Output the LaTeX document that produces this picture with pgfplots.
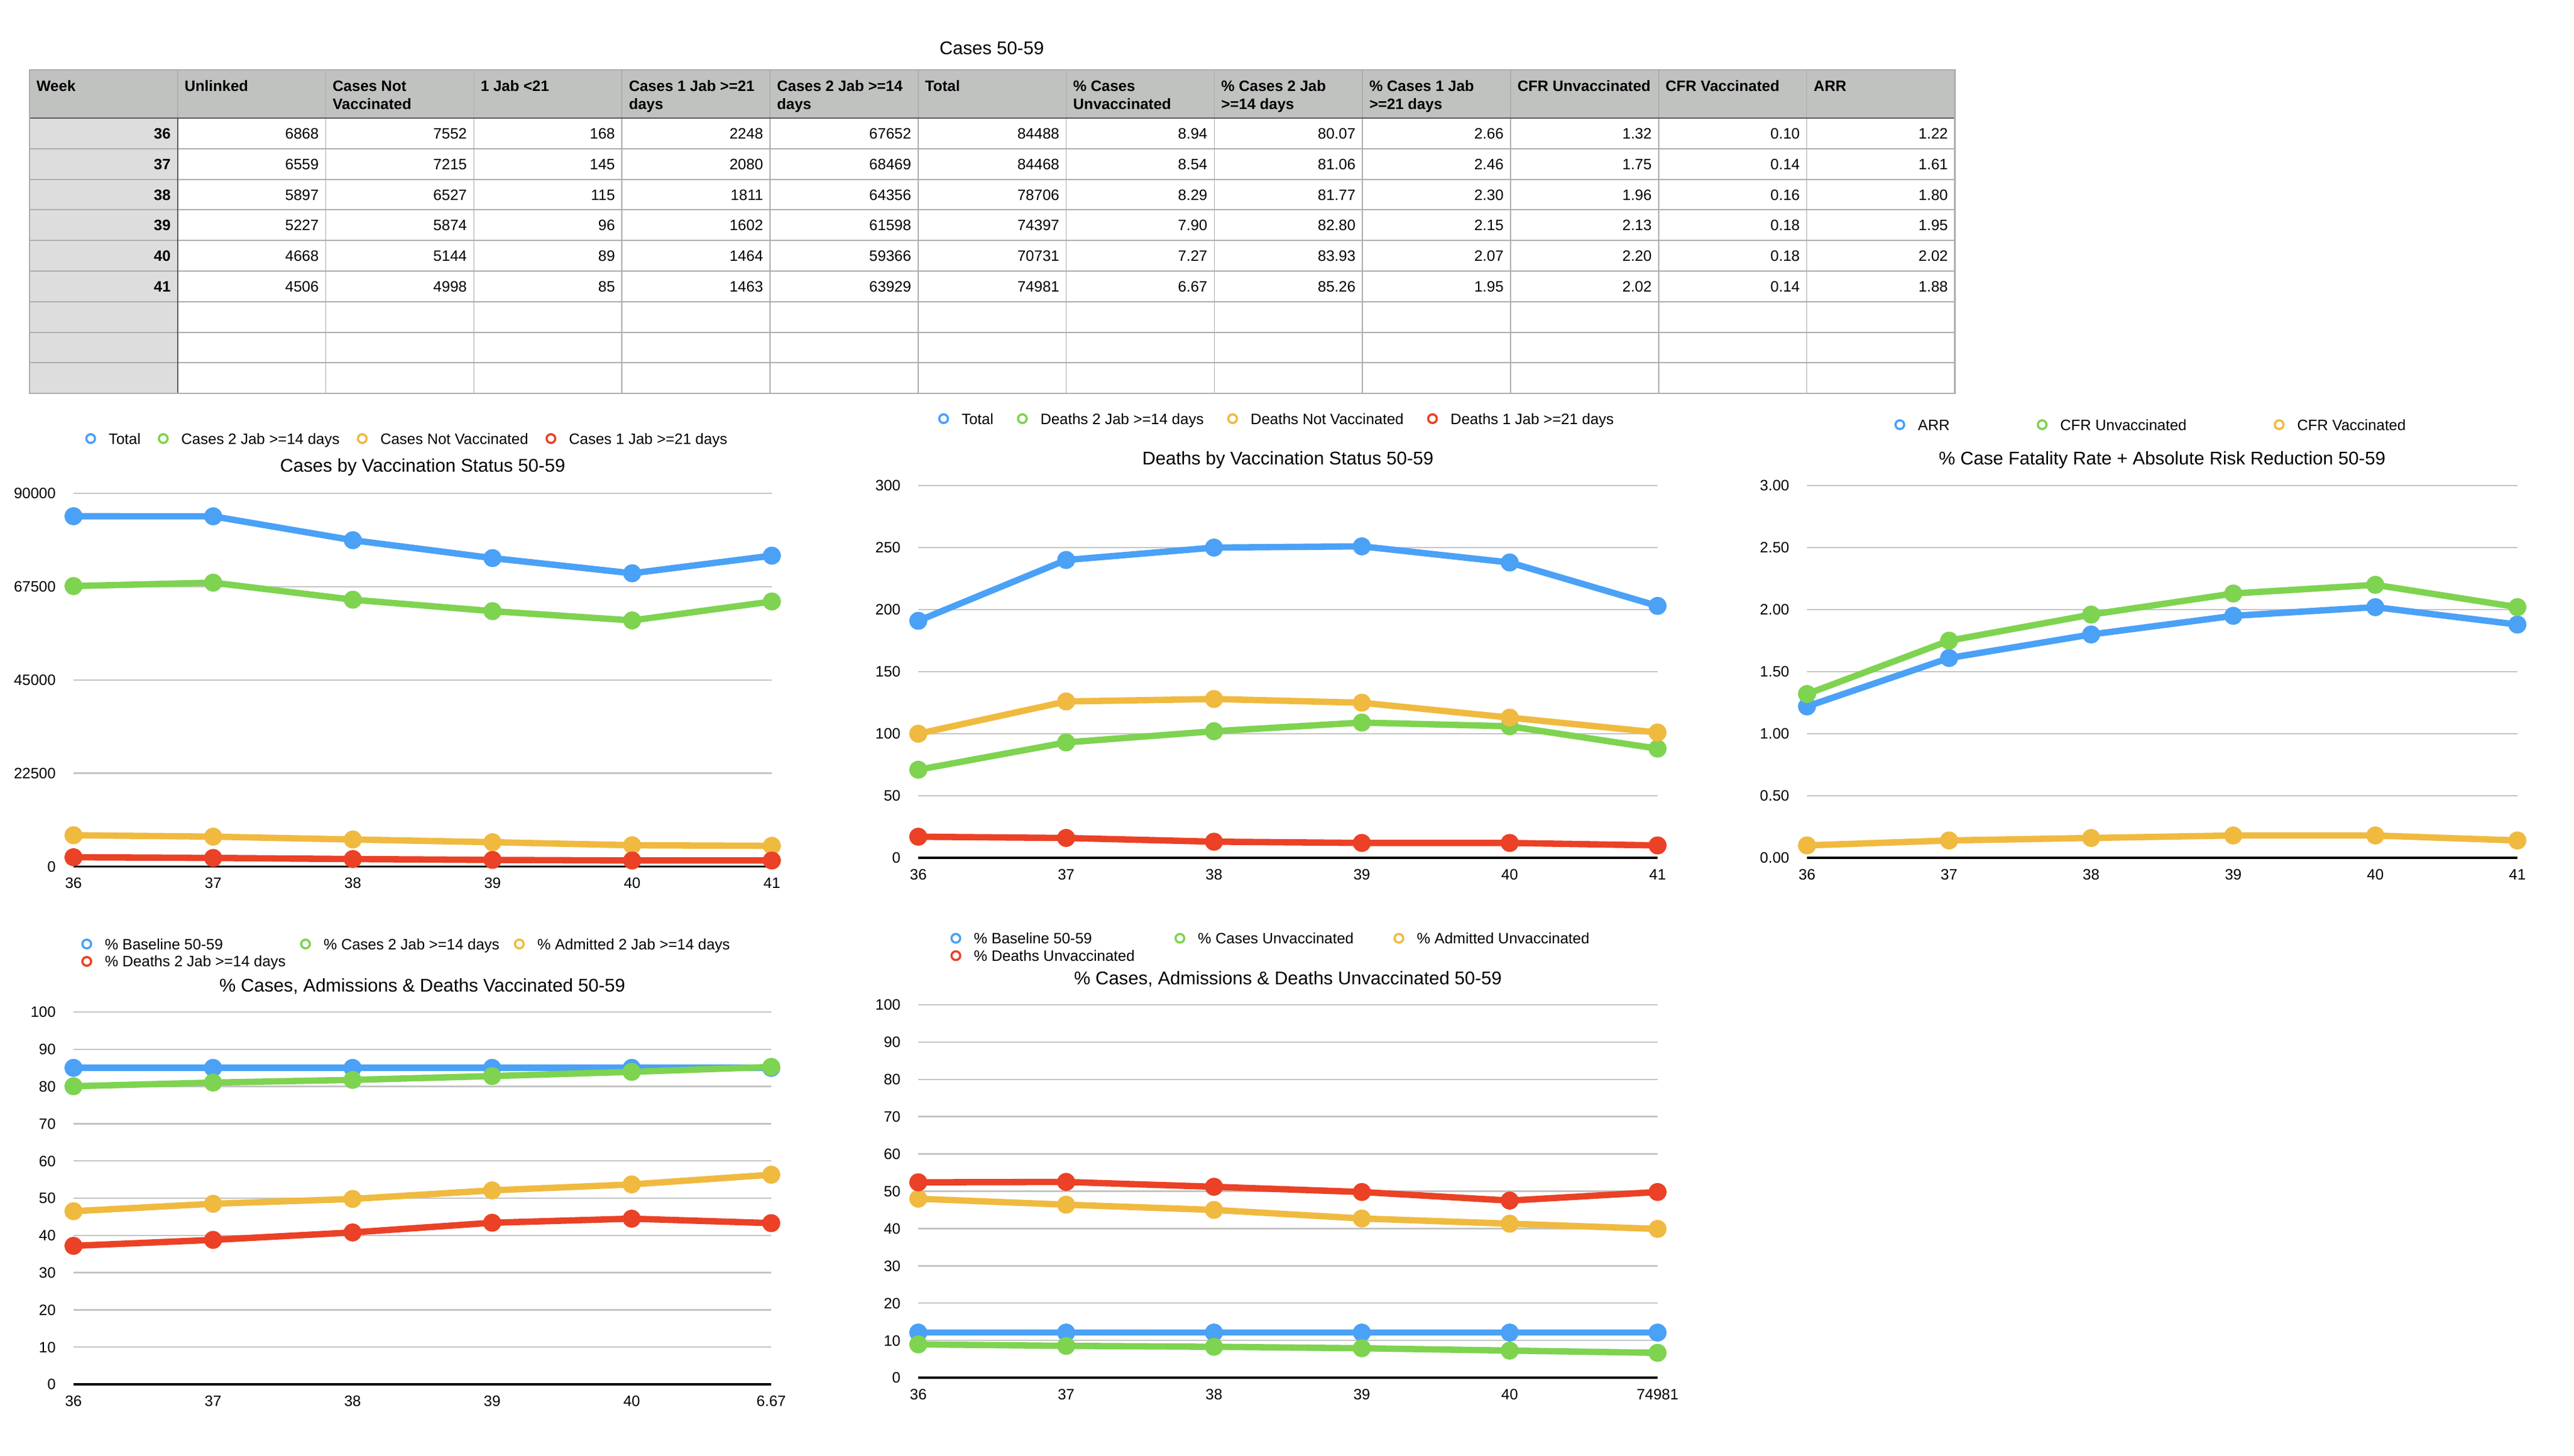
\documentclass[border=0pt]{standalone}
\usepackage{fontspec}
\setmainfont{Liberation Sans}
\usepackage{pgfplots}
\pgfplotsset{compat=1.18}
\definecolor{cblue}{RGB}{74,161,246}
\definecolor{cgreen}{RGB}{126,211,80}
\definecolor{cyellow}{RGB}{240,186,64}
\definecolor{cred}{RGB}{235,65,38}
\definecolor{gridgray}{RGB}{196,196,196}
\definecolor{hdrgray}{RGB}{192,194,192}
\definecolor{wkgray}{RGB}{221,221,221}
\definecolor{linegray}{RGB}{172,172,172}
\definecolor{darkline}{RGB}{90,90,90}

\newcommand\hd[3]{%
  \node[anchor=base west, inner sep=0pt, font=\bfseries\fontsize{9}{10.8}\selectfont] at ({49+245.8*#1+11},152) {#2};
  \node[anchor=base west, inner sep=0pt, font=\bfseries\fontsize{9}{10.8}\selectfont] at ({49+245.8*#1+11},182) {#3};}

\pgfplotsset{
 base/.style={
  scale only axis, xmin=36, xmax=41, ymin=0, enlargelimits=false, clip=false,
  scaled y ticks=false,
  /pgf/number format/assume math mode=true,
  axis line style={draw=none}, major tick length=0pt, ymajorgrids,
  major grid style={draw=gridgray, line width=0.9pt},
  xtick={36,37,38,39,40,41},
  tick label style={font=\fontsize{9}{10.8}\selectfont, inner sep=0pt, text height=6.4pt, text depth=0pt},
  yticklabel style={anchor=east, xshift=-10.4pt},
  xticklabel style={anchor=north, yshift=-6.5pt},
  extra y ticks={0}, extra y tick labels={},
  extra y tick style={major grid style={draw=black, line width=1.4pt}},
  legend style={draw=none, fill=none, anchor=west, inner sep=0pt, outer sep=0pt,
    font=\fontsize{9}{10.8}\selectfont, cells={anchor=west},
    nodes={inner xsep=0pt, inner ysep=1.95pt, text height=6.5pt, text depth=0pt},
    /tikz/every odd column/.append style={column sep=7.55pt}},
  legend image code/.code={\draw[line width=1.3pt, fill=white] (0pt,0pt) circle (2.6pt);},
 },
 ser/.style={color=#1, line width=3.8pt, line join=round, mark=*, mark size=3.5pt,
   mark options={fill=#1, draw=none}},
}
\newcommand\ttl[2]{\node[font=\fontsize{11}{13}\selectfont, anchor=center, inner sep=0pt, text height=7.9pt, text depth=0pt] at (axis description cs:0.5,#1) {#2};}

\begin{document}
\begin{tikzpicture}
\path[use as bounding box, fill=white] (0,0) rectangle (1537.92pt,-869.76pt);

% ---------------- table ----------------
\begin{scope}[x=0.36pt,y=-0.36pt]
\node[font=\fontsize{11}{13}\selectfont, anchor=base, inner sep=0pt] at (1646,91) {Cases 50-59};
\fill[hdrgray] (49,116) rectangle (3244.4,196);
\fill[wkgray] (49,196) rectangle (294.8,653.2);
\foreach \k in {1,...,8} \draw[color=linegray, line width=0.7pt] (49,{196+50.8*\k}) -- (3244.4,{196+50.8*\k});
\foreach \i in {2,...,12} \draw[color=linegray, line width=0.6pt] ({49+245.8*\i},116) -- ({49+245.8*\i},653.2);
\draw[color=linegray, line width=0.6pt] (294.8,116) -- (294.8,196);
\draw[color=darkline, line width=0.8pt] (294.8,196) -- (294.8,653.2);
\draw[color=darkline, line width=1pt] (49,196) -- (3244.4,196);
\draw[color=linegray, line width=0.8pt] (49,116) rectangle (3244.4,653.2);
\hd{0}{Week}{}
\hd{1}{Unlinked}{}
\hd{2}{Cases Not}{Vaccinated}
\hd{3}{1 Jab <21}{}
\hd{4}{Cases 1 Jab >=21}{days}
\hd{5}{Cases 2 Jab >=14}{days}
\hd{6}{Total}{}
\hd{7}{\% Cases}{Unvaccinated}
\hd{8}{\% Cases 2 Jab}{>=14 days}
\hd{9}{\% Cases 1 Jab}{>=21 days}
\hd{10}{CFR Unvaccinated}{}
\hd{11}{CFR Vaccinated}{}
\hd{12}{ARR}{}
\foreach \row [count=\k from 0] in {
 {36,6868,7552,168,2248,67652,84488,8.94,80.07,2.66,1.32,0.10,1.22},
 {37,6559,7215,145,2080,68469,84468,8.54,81.06,2.46,1.75,0.14,1.61},
 {38,5897,6527,115,1811,64356,78706,8.29,81.77,2.30,1.96,0.16,1.80},
 {39,5227,5874,96,1602,61598,74397,7.90,82.80,2.15,2.13,0.18,1.95},
 {40,4668,5144,89,1464,59366,70731,7.27,83.93,2.07,2.20,0.18,2.02},
 {41,4506,4998,85,1463,63929,74981,6.67,85.26,1.95,2.02,0.14,1.88}}{
  \foreach \v [count=\c from 1] in \row {
    \node[anchor=base east, inner sep=0pt, font=\fontsize{9}{10.8}\selectfont] at ({49+245.8*\c-11},{196+50.8*\k+25.4+9}) {\ifnum\c=1 \bfseries\fi\v};
  }
}
\end{scope}

% ---------------- chart 1 ----------------
\begin{axis}[base, width=417.24pt, height=223.02pt, at={(43.92pt,-517.86pt)}, anchor=south west,
  ymax=90000, ytick={0,22500,45000,67500,90000}, yticklabels={0,22500,45000,67500,90000},
  xticklabels={36,37,38,39,40,41},
  legend columns=4,
  legend style={at={(0.0168,1.1469)}, /tikz/every even column/.append style={column sep=10.3pt}}]
\addplot[ser=cblue] coordinates {(36,84488) (37,84468) (38,78706) (39,74397) (40,70731) (41,74981)};
\addlegendentry{Total}
\addplot[ser=cgreen] coordinates {(36,67652) (37,68469) (38,64356) (39,61598) (40,59366) (41,63929)};
\addlegendentry{Cases 2 Jab >=14 days}
\addplot[ser=cyellow] coordinates {(36,7552) (37,7215) (38,6527) (39,5874) (40,5144) (41,4998)};
\addlegendentry{Cases Not Vaccinated}
\addplot[ser=cred] coordinates {(36,2248) (37,2080) (38,1811) (39,1602) (40,1464) (41,1463)};
\addlegendentry{Cases 1 Jab >=21 days}
\ttl{1.0743}{Cases by Vaccination Status 50-59}
\end{axis}

% ---------------- chart 2 ----------------
\begin{axis}[base, width=441.72pt, height=222.48pt, at={(548.64pt,-512.64pt)}, anchor=south west,
  ymax=300, ytick={0,50,100,150,200,250,300}, yticklabels={0,50,100,150,200,250,300},
  xticklabels={36,37,38,39,40,41},
  legend columns=4,
  legend style={at={(0.0269,1.1796)}, /tikz/every even column/.append style={column sep=14pt}}]
\addplot[ser=cblue] coordinates {(36,191) (37,240) (38,250) (39,251) (40,238) (41,203)};
\addlegendentry{Total}
\addplot[ser=cgreen] coordinates {(36,71) (37,93) (38,102) (39,109) (40,106) (41,88)};
\addlegendentry{Deaths 2 Jab >=14 days}
\addplot[ser=cyellow] coordinates {(36,100) (37,126) (38,128) (39,125) (40,113) (41,101)};
\addlegendentry{Deaths Not Vaccinated}
\addplot[ser=cred] coordinates {(36,17) (37,16) (38,13) (39,12) (40,12) (41,10)};
\addlegendentry{Deaths 1 Jab >=21 days}
\ttl{1.0744}{Deaths by Vaccination Status 50-59}
\end{axis}

% ---------------- chart 3 ----------------
\begin{axis}[base, width=424.44pt, height=222.48pt, at={(1079.64pt,-512.64pt)}, anchor=south west,
  ymax=3, ytick={0,0.5,1,1.5,2,2.5,3}, yticklabels={0.00,0.50,1.00,1.50,2.00,2.50,3.00},
  xticklabels={36,37,38,39,40,41},
  legend columns=3,
  legend style={at={(0.123,1.1634)}, /tikz/every even column/.append style={column sep=52pt}}]
\addplot[ser=cblue] coordinates {(36,1.22) (37,1.61) (38,1.80) (39,1.95) (40,2.02) (41,1.88)};
\addlegendentry{ARR}
\addplot[ser=cgreen] coordinates {(36,1.32) (37,1.75) (38,1.96) (39,2.13) (40,2.20) (41,2.02)};
\addlegendentry{CFR Unvaccinated}
\addplot[ser=cyellow] coordinates {(36,0.10) (37,0.14) (38,0.16) (39,0.18) (40,0.18) (41,0.14)};
\addlegendentry{CFR Vaccinated}
\ttl{1.0744}{\% Case Fatality Rate + Absolute Risk Reduction 50-59}
\end{axis}

% ---------------- chart 4 ----------------
\begin{axis}[base, width=416.88pt, height=222.48pt, at={(43.92pt,-827.28pt)}, anchor=south west,
  ymax=100, ytick={0,10,20,30,40,50,60,70,80,90,100}, yticklabels={0,10,20,30,40,50,60,70,80,90,100},
  xticklabels={36,37,38,39,40,6.67},
  legend columns=3,
  legend style={at={(0.0112,1.1594)}, /tikz/every even column/.append style={column sep=8.6pt}}]
\addplot[ser=cblue] coordinates {(36,85) (37,85) (38,85) (39,85) (40,85) (41,85)};
\addlegendentry{\% Baseline 50-59}
\addplot[ser=cgreen] coordinates {(36,80.07) (37,81.06) (38,81.77) (39,82.80) (40,83.93) (41,85.26)};
\addlegendentry{\% Cases 2 Jab >=14 days}
\addplot[ser=cyellow] coordinates {(36,46.5) (37,48.5) (38,49.8) (39,52.1) (40,53.7) (41,56.3)};
\addlegendentry{\% Admitted 2 Jab >=14 days}
\addplot[ser=cred] coordinates {(36,37.2) (37,38.8) (38,40.8) (39,43.4) (40,44.5) (41,43.3)};
\addlegendentry{\% Deaths 2 Jab >=14 days}
\ttl{1.0728}{\% Cases, Admissions \& Deaths Vaccinated 50-59}
\end{axis}

% ---------------- chart 5 ----------------
\begin{axis}[base, width=441.72pt, height=222.84pt, at={(548.64pt,-823.32pt)}, anchor=south west,
  ymax=100, ytick={0,10,20,30,40,50,60,70,80,90,100}, yticklabels={0,10,20,30,40,50,60,70,80,90,100},
  xticklabels={36,37,38,39,40,74981},
  legend columns=3,
  legend style={at={(0.0435,1.1551)}, /tikz/every even column/.append style={column sep=23.75pt}}]
\addplot[ser=cblue] coordinates {(36,12.1) (37,12.1) (38,12.1) (39,12.1) (40,12.1) (41,12.1)};
\addlegendentry{\% Baseline 50-59}
\addplot[ser=cgreen] coordinates {(36,8.94) (37,8.54) (38,8.29) (39,7.90) (40,7.27) (41,6.67)};
\addlegendentry{\% Cases Unvaccinated}
\addplot[ser=cyellow] coordinates {(36,48.0) (37,46.4) (38,45.0) (39,42.7) (40,41.3) (41,39.9)};
\addlegendentry{\% Admitted Unvaccinated}
\addplot[ser=cred] coordinates {(36,52.4) (37,52.5) (38,51.2) (39,49.8) (40,47.5) (41,49.8)};
\addlegendentry{\% Deaths Unvaccinated}
\ttl{1.0727}{\% Cases, Admissions \& Deaths Unvaccinated 50-59}
\end{axis}
\end{tikzpicture}
\end{document}
